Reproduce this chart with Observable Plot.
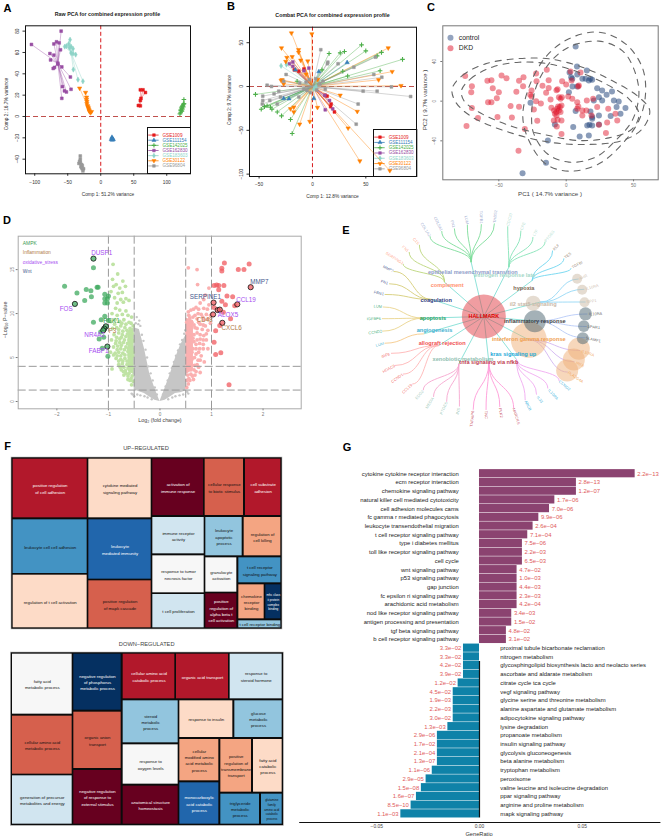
<!DOCTYPE html>
<html><head><meta charset="utf-8">
<script src="https://cdn.jsdelivr.net/npm/d3@7"></script>
<script src="https://cdn.jsdelivr.net/npm/@observablehq/plot@0.6"></script>
<style>
html,body{margin:0;padding:0;background:#fff}
#page{position:relative;width:661px;height:839px;overflow:hidden;font-family:"Liberation Sans",Arial,sans-serif;background:#fff}
#page>svg,#page>div.abs{position:absolute}
.t{position:absolute;white-space:nowrap;transform:translate(-50%,-50%)}
</style></head><body><div id="page"></div>
<script>
// ---------- Panel A values (Comp 1, Comp 2)
const seriesNames=["GSE1009","GSE111154","GSE142025","GSE162830","GSE183603","GSE30122","GSE96804"];
const seriesColors=["#e41a1c","#377eb8","#4daf4a","#984ea3","#8dd3c7","#ff7f00","#999999"];
const seriesSymbols=["square","triangle","plus","square","diamond","triangle","square"];
const seriesTurn=[0,0,0,0,0,180,0];
const seriesEdge=[0.5,0.5,1.1,0.5,0.5,0.5,0.5];
const rawRed=[[60,25],[64,25],[67.7,22.5],[61,17],[60,15],[57,10.3],[60,10]];
const rawBlue=[[17,-19.5],[18,-21],[16,-21.5],[19,-21.5],[17.5,-22],[17,-20.5]];
const rawGreen=[[126,16],[126,12],[125,11],[124,10],[122,8],[121,4],[123,5],[126,12],[122,6],[124,7],[121,6],[123,9],[125,9],[120,2.5]];
const rawPurple=[[-105,67.5],[-60,80],[-71,68],[-67,70],[-63,69],[-77,59],[-71,57.5],[-76,53],[-61,62.5],[-65,50],[-65,49],[-72,45],[-70,46],[-59,46.5],[-46,37],[-58,28],[-55,24],[-52,23],[-45,25.5],[-59,17]];
const rawTeal=[[-46.5,72],[-54.5,65.5],[-52,66],[-48.5,68],[-47.5,64.5],[-45,65.5],[-42,63.5],[-45,59.5],[-42,59],[-38,58],[-41.5,44],[-34.5,34.5],[-27,33]];
const rawOrange=[[-32,26.5],[-23,22.5],[-21.5,18],[-21.5,16],[-21,14],[-21,12],[-20,10],[-19.5,9],[-18.5,8],[-18,6.5],[-17.5,5.5],[-17,4.5],[-15.5,3.5],[-14,4.5]];
const rawGray=[[-31,-37],[-31,-40],[-33,-44],[-31,-43],[-29,-45],[-30,-47],[-28,-46],[-28,-49],[-26,-49],[-27,-51],[-29,-48],[-32,-42]];
const rawCenters=[[61,17],[17.5,-21],[123,8],[-65,50],[-45,60],[-20,10],[-29,-45]];
// ---------- Panel B values
const combatRed=[[-17,19],[-12.8,17.5],[-8,20],[13.7,-11],[17,-23],[20.6,-29],[17.5,-20],[12,-10]];
const combatBlue=[[32.5,27.4],[6,17],[-16,19],[-27,-13.7],[1.3,-13.7],[-22,-14]];
const combatGreen=[[-53.4,-9],[-48,-26],[-45,-23],[-42.5,-22],[-39.4,-23.6],[-38,-26],[-33,-29],[-29,-33.5],[-19,-53.6],[-20.6,-37.6],[-14.4,6],[46,47.5],[50,40.7],[64.7,39],[60.6,35],[84.4,31],[63.4,18],[33,12],[30,40],[26,38.4],[15.6,37.6],[9,19],[28.4,17.5]];
const combatPurple=[[-18.4,28],[-3.4,21],[-18.4,23],[11.6,-10],[12,-26.6],[19,-25.5],[16,-16],[-8,18],[-21.6,26]];
const combatTeal=[[-29.4,23.6],[-24.4,25],[2.5,-1.5],[3.4,0],[1.3,-2.7]];
const combatOrange=[[-19.7,61],[-0.6,60],[-29,44],[-13,42],[-19,34],[-11,30],[-24,33],[-25,28.5],[-13,39],[-4.4,29],[-28.4,7.6],[-29.4,7],[-17.5,-23.6],[-20.6,-25.5],[-12,-43],[-2.5,-40],[4.7,-24],[26,-10],[62,7.6],[74.7,17],[71,44],[83,1],[42,-28.5],[33.4,-47.5],[44.4,-85],[72.5,-96],[-17.5,-29],[-27,3],[-6,14],[5,8]];
const combatGray=[[7.8,42],[14.4,27.8],[14,26],[24,26],[38.8,22],[59,33.5],[57.5,13.7],[65,10.6],[74,-0.4],[92,-11.4],[60.6,-5.3],[47.5,-5.3],[42.8,-20],[41,-43],[-46.6,-11],[-46.6,-16],[-40,-16],[-42.5,1.5],[-38.4,0],[-31.6,-5.3],[-24.7,13.7],[-27,6],[-5,-4.6],[-12.8,-12],[-30,-12],[-36,-8.4],[-33,-20],[-47,-20],[-6,5],[4,-4],[-8,-3],[7,3],[-3,8],[10,6],[-12,4],[3,9],[-2,-7],[12,-3]];
const combatCenter=[0,0];
// ---------- Panel C values (PC1, PC2)
const controlPts=[[7,55],[8,35],[2.5,29],[8.2,27],[3.7,24],[15.3,31],[12,22.5],[18,22.5],[16.8,20.8],[4.7,14.8],[23,13],[26.7,10.8],[24.3,4],[30,6.4],[34,9.7],[35.4,0.7],[39,-0.3],[44,-7],[37.4,-6],[40.3,-12.8],[33,-15],[24.3,-14.5],[19.3,-16],[18,-10.4],[19.3,-17.8],[17.3,-23.9],[19.3,-24.5],[15.6,-24.5],[24.3,-23.5],[5.2,-26],[10,-35.6],[16.8,-34.6],[-13.6,-39.7],[-15,-62],[-32.4,-72.6],[-26.5,-1.7],[-8.4,-23.5],[7,-10],[20.5,0.7],[26.7,0.7],[8.2,14.8],[4.5,22.5],[14.4,22.5],[19.3,21.5],[2,9]];
const dkdPts=[[-75,25.5],[-70,15],[-70.5,9],[-70,-7],[-65.5,-17],[-74,-25],[-58.5,20.5],[-55.5,21],[-54.5,13],[-50,9],[-51.5,3],[-58,-1],[-55.5,-1],[-51,-16],[-48,26],[-44.3,23],[-41.3,-5],[-40.3,-16.5],[-37,9.4],[-35,20.5],[-31.7,24],[-32,15],[-35,-5.7],[-30.7,-28],[-35.4,-50],[-25.7,10.8],[-26.7,6.4],[-25.7,4.7],[-24,-8.4],[-21.5,-19.8],[-22.3,28],[-22,20],[-22.3,0],[-18.8,-2.4],[-17.6,15.5],[-14.4,31.6],[-13,21],[-13,13.4],[-14.9,8.4],[-11.6,1.7],[-7.2,11],[-6.4,12],[-3,20],[0,16.8],[-3.2,4],[-5.4,4],[-4.2,2.4],[-11,-6.7],[-9,-9.4],[-6,-5.4],[-4.7,-6],[-3.5,-4.4],[-8.4,-12.8],[-7.2,-14.5],[-9.2,-19.5],[-6.4,-18.8],[-3.5,-19.5],[-7,-25.5],[-3.5,-33],[1.5,4.7],[4.5,2.4],[8.2,-1],[9,-5.4],[12,-9.4],[15.3,0.7],[20,2.4],[15,-9.4],[18.8,-14.5],[12,-14.5],[8.2,-7.7],[24.3,-23.9],[29.5,-32],[30.4,-21.5],[37.9,-19.5],[23,-6],[3.2,30],[9.4,15.8],[4,20.8],[10.6,29],[36.6,-12.8],[31.2,-7.7],[8.9,14.8],[-6.7,-7.7],[-5.4,-9.4],[-4.2,-11],[-7.4,-11]];
const ellipseDkdOuter=[[-84.7,12.4],[-77,26],[-60,37.6],[-37.6,42.7],[-12.9,42.7],[11.9,34.3],[34,20.8],[54,4],[62,-9.4],[56.4,-28],[41.6,-39.7],[14.4,-43.7],[-12.9,-41.3],[-42.6,-31.3],[-69.8,-16],[-82,-1]];
const ellipseDkdInner=[[-77.7,10.8],[-71,22.5],[-55,34.3],[-35,39.3],[-12.9,37.6],[9.4,29.2],[29.2,17.5],[46.5,2.4],[54,-12.8],[49,-28],[31.7,-37],[9.4,-39.7],[-12.9,-34.6],[-40,-25.5],[-64.9,-11],[-76,0.7]];
const ellipseCtrlOuter=[[-32.2,-16],[-27.7,14],[-15.3,44.4],[2,62.9],[24.3,69.6],[44,57.8],[56.4,34.3],[58.9,7.4],[54,-19.5],[41.6,-43],[24.3,-63.2],[2,-70.6],[-15.3,-63.2],[-27.7,-39.7]];
const ellipseCtrlInner=[[-25.7,-16],[-22.8,12.4],[-12.9,37.6],[2,54.5],[24.3,60.5],[41.6,51],[50.2,32.6],[54,7.4],[49,-19.5],[36.6,-39.7],[21.8,-56.5],[2,-61.5],[-14,-53],[-24,-33]];
// ---------- Panel D values (log2FC, -log10 P)
const nsLeftEdge=[[-0.5,1.3,8.4],[-0.4,1.1,8.2],[-0.3,0.9,6.0],[-0.2,0.5,3.2],[-0.1,0.15,1.5],[0,0,0]];
const nsRightEdge=[[0,0,0],[0.1,0.15,1.5],[0.2,0.5,3.1],[0.3,0.9,4.9],[0.4,1,6.4],[0.5,1.2,7.5]];
const nsPts=[[-0.45,9.6],[-0.42,8.8],[-0.38,8.6],[-0.35,7.6],[-0.32,6.9],[-0.28,5.9],[-0.25,5],[-0.22,4],[-0.18,3.2],[-0.14,2.4],[-0.1,1.6],[-0.06,0.8],[-0.53,0.8],[-0.55,0.9],[-0.5,0.6],[-0.44,0.8],[-0.38,0.7],[-0.3,0.6],[-0.24,0.45],[-0.16,0.25],[0.06,0.8],[0.11,1.7],[0.15,2.4],[0.19,3.2],[0.23,3.8],[0.27,4.5],[0.31,5.2],[0.35,5.8],[0.39,6.5],[0.43,7],[0.47,7.7],[0.49,8.1],[0.53,1.1],[0.55,0.9],[0.45,0.8],[0.38,0.7],[0.3,0.6],[0.24,0.45],[0.16,0.25],[-0.47,8.9],[-0.4,9.2]];
const downFill=[[-0.62,3.5,8],[-0.5,3,8.4]];
const upFill=[[0.5,3,9.5],[0.65,3.6,9.2]];
const lightDown=[[-0.91,15.6],[-0.82,14.5],[-0.72,13.7],[-0.92,13.9],[-0.85,13.3],[-0.9,13.1],[-0.78,12.9],[-0.67,13.1],[-0.95,12.5],[-0.81,12.3],[-0.73,12.4],[-0.88,11.8],[-0.76,11.6],[-0.66,11.7],[-0.83,11.2],[-0.71,11.3],[-0.6,11.5],[-0.86,10.6],[-0.78,10.4],[-0.66,10.3],[-0.93,10],[-0.83,9.8],[-0.73,9.9],[-0.62,9.8],[-0.55,9.6],[-0.95,9.1],[-0.87,9.3],[-0.78,9.1],[-0.7,9.3],[-0.6,9],[-0.52,8.6],[-0.92,8.3],[-0.84,8.4],[-0.76,8.6],[-0.68,8.4],[-0.58,8.3],[-0.89,7.6],[-0.8,7.8],[-0.73,7.6],[-0.63,7.7],[-0.54,7.7],[-0.94,7],[-0.85,6.9],[-0.78,7.1],[-0.69,7],[-0.6,7],[-0.52,6.9],[-0.9,6.2],[-0.82,6.3],[-0.75,6.4],[-0.66,6.2],[-0.56,6.4],[-0.96,5.6],[-0.87,5.5],[-0.8,5.6],[-0.72,5.5],[-0.62,5.7],[-0.52,5.6],[-0.85,4.9],[-0.76,4.8],[-0.68,4.9],[-0.59,5],[-0.8,4.2],[-0.73,4.3],[-0.64,4.2],[-0.55,4.2],[-0.75,3.6],[-0.67,3.5],[-0.58,3.5],[-0.7,3],[-0.62,2.9],[-0.54,2.9],[-0.58,2.4],[-0.52,2.3],[-0.55,1.9],[-0.93,3.7],[-0.74,8.9],[-0.66,8.8],[-0.56,8.9],[-0.88,8.8],[-0.8,8.2],[-0.72,8],[-0.64,8.1],[-0.56,7.9],[-0.84,7.3],[-0.75,7.3],[-0.66,7.4],[-0.58,7.4],[-0.86,6.6],[-0.78,6.7],[-0.71,6.7],[-0.63,6.6],[-0.55,6.8],[-0.83,5.9],[-0.76,6],[-0.69,5.9],[-0.61,6],[-0.54,6],[-0.9,5.3],[-0.83,5.2],[-0.76,5.2],[-0.68,5.3],[-0.6,5.3],[-0.53,5.2],[-0.8,4.6],[-0.72,4.6],[-0.64,4.6],[-0.56,4.6],[-0.77,3.9],[-0.7,3.9],[-0.62,3.8],[-0.54,3.8],[-0.66,3.2],[-0.6,3.2],[-0.71,3.4],[-0.56,2.6],[-0.62,2.5]];
const lightUp=[[0.55,15.2],[0.72,15],[0.73,13.3],[0.95,12.9],[0.88,12.1],[0.85,11.6],[0.78,11.2],[0.7,10.7],[0.95,11],[0.6,10.4],[0.65,10.5],[0.75,10.5],[0.85,10.6],[0.92,10.5],[0.55,10.2],[0.68,9.8],[0.8,9.9],[0.9,9.9],[0.98,9.8],[0.58,9.5],[0.72,9.4],[0.85,9.3],[0.93,9.4],[0.52,9],[0.62,9],[0.78,8.8],[0.88,8.6],[0.98,8.9],[0.55,8.4],[0.68,8.4],[0.82,8.2],[0.93,8.1],[0.58,7.8],[0.72,7.8],[0.85,7.5],[0.53,7.2],[0.64,7.2],[0.78,7.1],[0.9,7],[0.58,6.6],[0.7,6.5],[0.84,6.5],[0.52,6],[0.64,6],[0.77,6],[0.57,5.4],[0.7,5.4],[0.8,5.2],[0.52,4.8],[0.62,4.8],[0.74,4.7],[0.55,4.2],[0.67,4.1],[0.52,3.6],[0.6,3.6],[0.7,3.4],[0.54,3],[0.63,2.9],[0.52,2.4],[0.58,2.4],[0.55,2],[0.52,1.6],[0.75,3.9],[0.86,4.5],[0.93,6],[0.56,9.8],[0.64,9.6],[0.74,10],[0.83,9.6],[0.75,9],[0.66,8.7],[0.84,8.7],[0.72,8.3],[0.6,8.4],[0.78,7.6],[0.66,7.6],[0.9,7.7],[0.6,7.2],[0.72,7],[0.84,7],[0.66,6.8],[0.77,6.6],[0.58,6.1],[0.7,6],[0.84,6],[0.62,5.6],[0.75,5.6],[0.56,5],[0.67,5],[0.78,4.7],[0.6,4.4],[0.72,4.2],[0.57,3.9],[0.66,3.6],[0.6,3.1],[0.68,3],[0.56,2.6],[0.65,2.5],[0.78,3.3]];
const strongDown=[[-1.29,15.2],[-1.85,13.1],[-1.61,12.35],[-1.43,12.75],[-1.34,12.6],[-1.22,13],[-1.2,13],[-1.33,11.9],[-1.46,11.5],[-1.07,12.2],[-1,12],[-1.07,11.7],[-1.02,11.7],[-1.07,11.2],[-1.02,11.2],[-1.07,9.7],[-1.14,9.3],[-1.29,9],[-1,9.2],[-1.15,7.9],[-1.09,7.3],[-1.12,6.05],[-1.01,5.15],[-1.18,7.1]];
const strongUp=[[1.25,15.75],[1.2,15.15],[1.2,14.85],[1.73,15.65],[1.52,15],[1.63,15],[1.05,13.2],[1.1,13.25],[1.14,13.2],[1.24,13.2],[1.14,12.7],[1.3,12],[1.41,11.9],[1.2,11.4],[1.27,11],[1.45,10.9],[1.37,9.4],[1.16,8.65],[1.08,8.05],[1.05,6.75],[1.08,5.35],[1.18,5.55],[1.34,1.9],[1.05,10.7],[1.23,10.15]];
const ringedDown=[[-1.29,16.25],[-1.65,11.1],[-1.05,8.55],[-1.08,8.3],[-1.1,8.1],[-1.02,6.25]];
const ringedUp=[[1.76,13],[1.04,11.25],[1.5,11.05],[1.12,10.4],[1.16,10.45],[1.03,9.9],[1.21,8.95]];
const geneNames=["DUSP1","FOS","PCK1","F3","NR4A2","FABP1","MMP7","SERPINE1","CCL19","ALOX5","CD48","CXCL6"];
const geneX=[-1.13,-1.82,-0.94,-0.92,-1.27,-1.19,1.93,0.88,1.67,1.32,0.87,1.39];
const geneY=[16.85,10.5,9.13,8.03,7.6,5.7,13.6,11.85,11.6,9.85,9.3,8.33];
const genePath=["oxidative_stress","oxidative_stress","AMPK","Inflammation","oxidative_stress","oxidative_stress","Wnt","Wnt","oxidative_stress","oxidative_stress","Inflammation","Inflammation"];
const pathNames=["AMPK","Inflammation","oxidative_stress","Wnt"];
const pathColors=["#3a9a50","#b07a45","#a64df0","#44588c"];
const pathY=[18,16.9,15.85,14.8];
// ---------- Panel E tree (layout units)
const hubNames=["epithelial mesenchymal transition","estrogen response late","hypoxia","il2 stat5 signaling","inflammatory response","interferon gamma response","kras signaling up","tnfa signaling via nfkb","xenobiotic metabolism","allograft rejection","angiogenesis","apoptosis","coagulation","complement"];
const hubLabelX=[547,643,700,728,733,715,668,595,517,455,432,427,437,470];
const hubLabelY=[199,208,247,295,348,400,447,471,460,413,373,338,285,239];
const hubX=[542,655,725,748,733,715,678,595,505,445,400,400,425,462];
const hubY=[170,185,225,290,347,403,462,470,475,420,385,338,282,230];
const hubText=["#8e9bc8","#a5d8c8","#7d6650","#c9b8a8","#444444","#f0a050","#20a8d8","#c04050","#90c0b0","#f05050","#40b0d0","#20a060","#304080","#ff9070"];
const hubBranch=["#7ddc9a","#86e3b8","#6fd6ef","#96d8f5","#b7c9f7","#d3b5f2","#f0aaf0","#ff9ad8","#f6a6cf","#ffb6b6","#f5c98a","#ead58e","#d6cd78","#bcd67c"];
const hubBend=["y","y","y","x","x","x","y","y","y","x","x","x","x","y"];
const leafNames=[["COL1A2","COL5A1","FN1","LUM","TGFB1","THBS2"],["CDC20","CPE","LTF","PTGES"],["KLF","TES","TGFBI"],["AHR","IL10RA","SPP1"],["IL10RA","LPAR1","SLAMF1"],["IL10RA","IRF8","PLA2G4A"],["CCND2","IL10RA","IL33","ABCB"],["TNFAIP6","TNC","PLK2","MARCKS"],["EDG2","MEDIA","PTGES","INS"],["IRF8","HDAC9","CCND1","CCL19"],["LUM"],["LUM","IGFBP6","CCND2"],["MMP7","FN1","FBN1"],["C1S","FN1","SERPING1"]];
const leafX=[[405,443,487,528,572,614],[657,697,735,777],[797,832,860],[878,905,903],[915,910,908],[892,868,855],[822,788,748,712],[545,587,631,677],[387,418,460,503],[285,295,320,350],[268],[262,250,254],[293,282,265],[377,345,312]];
const leafY=[[72,55,55,43,35,33],[42,62,82,92],[125,150,178],[215,245,287],[325,365,402],[443,477,515],[540,567,582,600],[640,628,622,632],[568,592,608,617],[450,490,518,550],[417],[303,340,380],[190,230,263],[107,130,158]];
const bubbleX=[580,728,733,715,860,875,882,885,880,877,865,850,830];
const bubbleY=[333,293,347,403,220,253,290,325,362,398,430,462,495];
const bubbleR=[22,7.5,11,18,5,5,5,6.5,5.8,6,11,11,11];
const bubbleColor=["#e23b43","#cbb9a3","#4a6470","#f0b078","#cbb9a3","#cbb9a3","#cbb9a3","#4a6470","#4a6470","#4a6470","#f0b078","#f0b078","#f0b078"];
// ---------- Panel F treemaps (layout units)
const shades=["#67001f","#b2182b","#d6604d","#f4a582","#fddbc7","#f7f7f7","#d1e5f0","#92c5de","#4393c3","#2166ac","#053061"];
const upLabels=["positive regulation\nof cell adhesion","cytokine mediated\nsignaling pathway","activation of\nimmune response","cellular response\nto biotic stimulus","cell substrate\nadhesion","leukocyte cell cell adhesion","leukocyte\nmediated immunity","regulation of t cell activation","positive regulation\nof mapk cascade","immune receptor\nactivity","leukocyte\napoptotic\nprocess","regulation of\ncell killing","response to tumor\nnecrosis factor","granulocyte\nactivation","t cell receptor\nsignaling pathway","t cell proliferation","positive\nregulation of\nalpha beta t\ncell activation","chemokine\nreceptor\nbinding","mhc class\nii protein\ncomplex\nbinding","t cell receptor binding"];
const upRank=[1,4,0,2,1,8,9,4,2,6,7,3,5,5,8,6,0,3,10,7];
const upBounds=[[38,86,260,262],[265,86,452,262],[457,86,609,255],[614,86,729,255],[735,86,841,255],[38,268,260,429],[265,268,452,446],[38,434,260,592],[265,451,452,592],[457,261,611,370],[616,261,725,376],[731,261,841,376],[457,376,611,487],[616,382,709,485],[715,382,841,457],[457,492,611,592],[616,490,709,592],[715,463,791,565],[796,463,841,565],[715,571,841,592]];
const downLabels=["fatty acid\nmetabolic process","negative regulation\nof phosphorus\nmetabolic process","cellular amino acid\ncatabolic process","organic acid transport","response to\nsteroid hormone","cellular amino acid\nmetabolic process","organic anion\ntransport","generation of precursor\nmetabolites and energy","negative regulation\nof response to\nexternal stimulus","steroid\nmetabolic\nprocess","response to insulin","glucose\nmetabolic\nprocess","response to\noxygen levels","anatomical structure\nhomeostasis","cellular\nmodified amino\nacid metabolic\nprocess","positive\nregulation of\ntransmembrane\ntransport","fatty acid\ncatabolic\nprocess","monocarboxylic\nacid catabolic\nprocess","triglyceride\nmetabolic\nprocess","glutamine\nfamily\namino acid\ncatabolic\nprocess"];
const downRank=[5,10,1,1,6,2,2,6,0,7,4,7,5,0,3,3,4,9,8,8];
const downBounds=[[36,71,215,251],[220,71,362,239],[368,71,523,205],[528,71,684,205],[689,71,845,205],[36,257,215,431],[220,245,362,414],[36,436,215,581],[220,420,362,581],[368,211,533,337],[538,211,697,321],[703,211,845,321],[368,343,533,461],[368,467,533,581],[538,327,655,451],[661,327,753,485],[759,327,845,485],[538,457,655,581],[661,491,777,581],[783,491,845,581]];
// ---------- Panel G values
const upPaths=["cytokine cytokine receptor interaction","ecm receptor interaction","chemokine signaling pathway","natural killer cell mediated cytotoxicity","cell adhesion molecules cams","fc gamma r mediated phagocytosis","leukocyte transendothelial migration","t cell receptor signaling pathway","type i diabetes mellitus","toll like receptor signaling pathway","cell cycle","wnt signaling pathway","p53 signaling pathway","gap junction","fc epsilon ri signaling pathway","arachidonic acid metabolism","nod like receptor signaling pathway","antigen processing and presentation","tgf beta signaling pathway","b cell receptor signaling pathway"];
const upRatio=[0.0758,0.0472,0.0472,0.0367,0.0341,0.0289,0.0261,0.0235,0.0209,0.0209,0.0209,0.0183,0.0183,0.0183,0.0183,0.0183,0.0157,0.0157,0.0131,0.0131];
const upP=["2.2e−13","2.8e−13","1.2e−07","1.7e−06","7.0e−06","9.9e−06","2.6e−04","7.1e−04","7.5e−06","2.2e−03","6.5e−03","4.7e−02","1.0e−03","4.4e−03","2.3e−03","4.2e−04","3.4e−03","1.5e−02","4.8e−02","3.1e−02"];
const downPaths=["proximal tubule bicarbonate reclamation","nitrogen metabolism","glycosphingolipid biosynthesis lacto and neolacto series","ascorbate and aldarate metabolism","citrate cycle tca cycle","vegf signaling pathway","glycine serine and threonine metabolism","alanine aspartate and glutamate metabolism","adipocytokine signaling pathway","lysine degradation","propanoate metabolism","insulin signaling pathway","glycolysis gluconeogenesis","beta alanine metabolism","tryptophan metabolism","peroxisome","valine leucine and isoleucine degradation","ppar signaling pathway","arginine and proline metabolism","mapk signaling pathway"];
const downRatio=[-0.0078,-0.0078,-0.0078,-0.0078,-0.0104,-0.0128,-0.0128,-0.0128,-0.0128,-0.0154,-0.0205,-0.0205,-0.0205,-0.0205,-0.023,-0.026,-0.0283,-0.0307,-0.0333,-0.0383];
const downP=["3.3e−02","3.3e−02","4.2e−02","3.9e−02","1.2e−02","4.5e−02","1.9e−03","2.2e−03","3.0e−02","1.3e−03","2.9e−06","1.7e−02","2.1e−04","1.3e−07","1.1e−06","2.9e−05","1.5e−08","1.6e−07","8.5e−10","1.1e−03"];

// ---------- helpers
const page=document.getElementById("page");
const FONT='"Liberation Sans",Arial,sans-serif';
function mount(el,left,top){el.style.position="absolute";el.style.left=left+"px";el.style.top=top+"px";page.appendChild(el);return el;}
function put(text,x,y,size,opts={}){const d=document.createElement("div");d.className="t";d.textContent=text;d.style.left=x+"px";d.style.top=y+"px";d.style.fontSize=size+"px";d.style.color=opts.color||"#333";if(opts.weight)d.style.fontWeight=opts.weight;if(opts.rotate)d.style.transform=`translate(-50%,-50%) rotate(${opts.rotate}deg)`;page.appendChild(d);}
const toXY=a=>a.map(([x,y])=>({x,y}));
const base=(w,h,m)=>({width:w,height:h,marginLeft:m[0],marginRight:m[1],marginTop:m[2],marginBottom:m[3],style:{fontFamily:FONT,background:"transparent",overflow:"visible"}});

function pcaPlot(groups,center,cfg){
  const marks=[Plot.ruleY([0],{stroke:"#c0504d",strokeWidth:1.2,strokeDasharray:"5 3"}),Plot.ruleX([0],{stroke:"#d7191c",strokeWidth:1,strokeDasharray:"4 2.5"})];
  groups.forEach((pts,i)=>{
    const c=center[i]||center; const rows=toXY(pts);
    marks.push(Plot.link(rows,{x1:()=>c[0],y1:()=>c[1],x2:"x",y2:"y",stroke:seriesColors[i],strokeWidth:0.6,strokeOpacity:cfg.lineOpacity}));
  });
  groups.forEach((pts,i)=>{
    marks.push(Plot.dot(toXY(pts),{x:"x",y:"y",symbol:seriesSymbols[i],fill:seriesColors[i],stroke:seriesColors[i],strokeWidth:seriesEdge[i],r:1.6,rotate:seriesTurn[i]}));
  });
  marks.push(Plot.axisX({ticks:cfg.xTicks,tickSize:2.5,tickPadding:4,fontSize:4.8,label:null,color:"#333",tickFormat:d3.format("d")}));
  marks.push(Plot.axisY({ticks:cfg.yTicks,tickSize:2.5,tickPadding:4.5,fontSize:4.8,label:null,color:"#333",tickRotate:-90,tickFormat:d3.format("d")}));
  marks.push(Plot.frame({stroke:"#111",strokeWidth:1}));
  return Plot.plot({...base(cfg.w,cfg.h,cfg.m),x:{domain:cfg.xd},y:{domain:cfg.yd},marks});
}
function pcaLegend(w,h){
  return Plot.plot({width:w,height:h,margin:0,style:{fontFamily:FONT,background:"#fff",overflow:"visible"},
    x:{domain:[0,1],axis:null},y:{type:"point",domain:seriesNames,range:[5,h-5],round:false,axis:null},
    marks:[
      Plot.ruleY(seriesNames,{x1:()=>0.03,x2:()=>0.27,y:d=>d,stroke:(d,i)=>seriesColors[i],strokeWidth:0.8}),
      Plot.dot(seriesNames,{x:()=>0.15,y:d=>d,symbol:(d,i)=>seriesSymbols[i],fill:(d,i)=>seriesColors[i],stroke:(d,i)=>seriesColors[i],r:1.5,rotate:(d,i)=>seriesTurn[i],strokeWidth:(d,i)=>seriesEdge[i]}),
      Plot.text(seriesNames,{x:()=>0.35,y:d=>d,text:d=>d,textAnchor:"start",fontSize:4.6,fill:(d,i)=>seriesColors[i]}),
      Plot.frame({stroke:"#111",strokeWidth:1})
    ]});
}

// ---------- A
mount(pcaPlot([rawRed,rawBlue,rawGreen,rawPurple,rawTeal,rawOrange,rawGray],rawCenters,{w:210,h:205,m:[25,20,25.3,31.7],xd:[-114,136],yd:[-53.7,85],xTicks:[-100,-50,0,50,100],yTicks:[-40,-20,0,20,40,60,80],lineOpacity:0.65}),0,0);
mount(pcaLegend(43,46),147,127);
put("Raw PCA for combined expression profile",107.5,13.7,5.3,{weight:"bold",color:"#222"});
put("Comp 1: 51.2% variance",108,193.5,4.8);
put("Comp 2: 16.7% variance",5.5,104,4.8,{rotate:-90});

// ---------- B (legend sits under the transparent plot, as in the original)
mount(pcaLegend(43.3,47),372.7,129);
mount(pcaPlot([combatRed,combatBlue,combatGreen,combatPurple,combatTeal,combatOrange,combatGray],combatCenter,{w:210,h:205,m:[34,9,26.7,29],xd:[-59,97.5],yd:[-102.7,67.7],xTicks:[-50,0,50],yTicks:[-100,-50,0,50],lineOpacity:0.7}),215,0);
put("Combat PCA for combined expression profile",332.5,14.5,5.3,{weight:"bold",color:"#222"});
put("Comp 1: 12.8% variance",332.5,196,4.8);
put("Comp 2: 9.7% variance",229,100,4.8,{rotate:-90});

// ---------- C
{
const ell=(a)=>Plot.line(toXY(a),{x:"x",y:"y",curve:"catmull-rom-closed",stroke:"#666",strokeWidth:1.1,strokeDasharray:"6 6"});
const legendNames=["control","DKD"],legendY=[63.9,53.4],groupFill=["#2a4a80","#e0142a"];
const cPlot=Plot.plot({...base(241,205,[22.3,3.3,25.3,25.7]),x:{domain:[-91.6,68.3]},y:{domain:[-79.3,76]},marks:[
  Plot.dot(toXY(controlPts),{x:"x",y:"y",r:3,fill:groupFill[0],fillOpacity:0.55}),
  Plot.dot(toXY(dkdPts),{x:"x",y:"y",r:3,fill:groupFill[1],fillOpacity:0.48}),
  ell(ellipseDkdOuter),ell(ellipseDkdInner),ell(ellipseCtrlOuter),ell(ellipseCtrlInner),
  Plot.dot(legendNames,{x:()=>-85.9,y:(d,i)=>legendY[i],r:3,fill:(d,i)=>groupFill[i],fillOpacity:0.5}),
  Plot.text(legendNames,{x:()=>-79.7,y:(d,i)=>legendY[i],text:d=>d,textAnchor:"start",fontSize:6.8,fill:"#222"}),
  Plot.axisX({ticks:[-50,0,50],tickSize:2,tickPadding:2,fontSize:4.6,label:null,color:"#777",tickFormat:d3.format("d")}),
  Plot.axisY({ticks:[-40,0,40],tickSize:2,tickPadding:4.5,fontSize:4.6,label:null,color:"#777",tickRotate:-90,tickFormat:d3.format("d")}),
  Plot.frame({stroke:"#777",strokeWidth:1})
]});
mount(cPlot,420,0);
put("PC1 ( 14.7% variance )",550,192.7,6.2,{color:"#444"});
put("PC2 ( 9.7% variance )",424,100,6.2,{color:"#444",rotate:-90});
}

// ---------- D
{
const geneRows=geneNames.map((g,i)=>({g,x:geneX[i],y:geneY[i],c:pathColors[pathNames.indexOf(genePath[i])]}));
const area=(a,f)=>Plot.areaY(a.map(([x,lo,hi])=>({x,lo,hi})),{x:"x",y1:"lo",y2:"hi",fill:f});
const dPlot=Plot.plot({...base(305,230,[17.7,4.3,30.7,26.7]),x:{domain:[-2.75,2.74]},y:{domain:[-0.83,18.8]},marks:[
  area(downFill,"#bfe3a4"),area(upFill,"#fbb0b0"),
  area(nsLeftEdge,"#c6c6c6"),area(nsRightEdge,"#c6c6c6"),
  Plot.dot(toXY(nsPts),{x:"x",y:"y",r:1.2,fill:"#c6c6c6"}),
  Plot.dot(toXY(lightDown),{x:"x",y:"y",r:1.9,fill:"#bfe3a4"}),
  Plot.dot(toXY(lightUp),{x:"x",y:"y",r:1.9,fill:"#fbb0b0"}),
  Plot.ruleX([-1,-0.5,0.5,1],{stroke:"#999",strokeWidth:1,strokeDasharray:"8 3"}),
  Plot.ruleY([4,1.3],{stroke:"#999",strokeWidth:1,strokeDasharray:"8 3"}),
  Plot.dot(toXY(strongDown),{x:"x",y:"y",r:2.5,fill:"#3fa95f",fillOpacity:0.75}),
  Plot.dot(toXY(strongUp),{x:"x",y:"y",r:2.5,fill:"#f0595f",fillOpacity:0.75}),
  Plot.dot(toXY(ringedDown),{x:"x",y:"y",r:2.6,fill:"#3fa95f",fillOpacity:0.75,stroke:"#111",strokeWidth:0.8}),
  Plot.dot(toXY(ringedUp),{x:"x",y:"y",r:2.6,fill:"#f0595f",fillOpacity:0.75,stroke:"#111",strokeWidth:0.8}),
  Plot.text(geneRows,{x:"x",y:"y",text:"g",fill:"c",fontSize:6.3}),
  Plot.text(pathNames,{x:()=>-2.66,y:(d,i)=>pathY[i],text:d=>d,fill:(d,i)=>pathColors[i],textAnchor:"start",fontSize:4.9}),
  Plot.axisX({ticks:[-2,-1,0,1,2],tickSize:2,tickPadding:1.5,fontSize:4.6,label:null,color:"#777",tickFormat:d3.format("d")}),
  Plot.axisY({ticks:[0,5,10,15],tickSize:2,tickPadding:2,fontSize:4.6,label:null,color:"#777",tickRotate:-90,tickFormat:d3.format("d")}),
  Plot.frame({stroke:"#aaa",strokeWidth:1})
]});
mount(dPlot,0,205);
put("Log₂ (fold change)",160,419.7,5.3,{color:"#444"});
put("−Log₁₀ P−value",5,320,5.3,{color:"#444",rotate:-90});
}

// ---------- E
{
const rootX=580,rootY=333;
const spokes=hubNames.map((n,i)=>({x:hubX[i],y:hubY[i],c:hubBranch[i]}));
const edges=[],labels=[];
const charW=6.4;
leafNames.forEach((names,i)=>names.forEach((name,j)=>{
  const lx=leafX[i][j],ly=leafY[i][j];
  const dx=lx-rootX,dy=ly-rootY,d=Math.hypot(dx,dy);
  const pull=name.length*charW/2+5;
  const ex=lx-dx/d*pull,ey=ly-dy/d*pull;
  let rot=Math.atan2(dy,dx)*180/Math.PI; if(dx<0) rot+=180;
  edges.push({x1:hubX[i],y1:hubY[i],x2:ex,y2:ey,c:hubBranch[i],bend:hubBend[i]});
  labels.push({name,x:lx,y:ly,rot,c:hubText[i]});
}));
const bubbles=bubbleX.map((x,i)=>({x,y:bubbleY[i],r:bubbleR[i],c:bubbleColor[i]}));
const hubs=hubNames.map((n,i)=>({n,x:hubLabelX[i],y:hubLabelY[i],c:hubText[i]}));
const ePlot=Plot.plot({...base(371,230,[0,0,0,0]),x:{domain:[0,1113],axis:null},y:{domain:[0,690],range:[0,230],axis:null},r:{type:"identity"},marks:[
  Plot.link(spokes,{x1:()=>rootX,y1:()=>rootY,x2:"x",y2:"y",stroke:()=>"#8fe3da",strokeWidth:1}),
  Plot.link(edges.filter(e=>e.bend==="y"),{x1:"x1",y1:"y1",x2:"x2",y2:"y2",stroke:"c",strokeWidth:0.9,curve:"bump-y"}),
  Plot.link(edges.filter(e=>e.bend==="x"),{x1:"x1",y1:"y1",x2:"x2",y2:"y2",stroke:"c",strokeWidth:0.9,curve:"bump-x"}),
  Plot.dot(bubbles,{x:"x",y:"y",r:"r",fill:"c",fillOpacity:0.5}),
  Plot.text(labels,{x:"x",y:"y",text:"name",rotate:"rot",fill:"c",fillOpacity:0.85,fontSize:4}),
  Plot.text(hubs,{x:"x",y:"y",text:"n",fill:"c",fontSize:5.6,fontWeight:"bold"}),
  Plot.text(["HALLMARK"],{x:()=>rootX,y:()=>rootY,text:d=>d,fill:"#e00000",fontSize:5.4,fontWeight:"bold"})
]});
mount(ePlot,290,205);
}

// ---------- F
function treemap(labels,ranks,bounds,outer,h){
  const rows=labels.map((label,i)=>({label,rank:ranks[i],x1:bounds[i][0],y1:bounds[i][1],x2:bounds[i][2],y2:bounds[i][3]}));
  const isLight=r=>r===0||r===1||r===9||r===10;
  const small=l=>l.startsWith("mhc")||l.startsWith("glutamine");
  return Plot.plot({...base(290,h,[0,0,0,0]),x:{domain:[0,870],axis:null},y:{domain:[0,h*3],range:[0,h],axis:null},
    color:{type:"ordinal",domain:d3.range(11),range:shades},
    marks:[
      Plot.rect([outer],{x1:"x1",y1:"y1",x2:"x2",y2:"y2",fill:()=>"#0b0b0b",stroke:"#bbb",strokeWidth:0.6}),
      Plot.rect(rows,{x1:"x1",y1:"y1",x2:"x2",y2:"y2",fill:"rank"}),
      Plot.text(rows.filter(r=>!small(r.label)),{x:d=>(d.x1+d.x2)/2,y:d=>(d.y1+d.y2)/2,text:"label",fontSize:4.3,lineHeight:1.47,fill:d=>isLight(d.rank)?"#fff":"#111"}),
      Plot.text(rows.filter(r=>small(r.label)),{x:d=>(d.x1+d.x2)/2,y:d=>(d.y1+d.y2)/2,text:"label",fontSize:3.1,lineHeight:1.5,fill:d=>isLight(d.rank)?"#fff":"#111"})
    ]});
}
mount(treemap(upLabels,upRank,upBounds,{x1:33,y1:81,x2:846,y2:597},205),0,430);
mount(treemap(downLabels,downRank,downBounds,{x1:31,y1:66,x2:850,y2:586},209),0,630);
put("UP−REGULATED",146,447.7,5.7,{color:"#444"});
put("DOWN−REGULATED",146.7,644.3,5.7,{color:"#444"});

// ---------- G
{
const allPaths=[...upPaths,...downPaths];
const up=upPaths.map((p,i)=>({p,v:upRatio[i],t:upP[i]}));
const down=downPaths.map((p,i)=>({p,v:downRatio[i],t:downP[i]}));
const gPlot=Plot.plot({...base(371,377,[9.3,1.7,6.6,17]),
  x:{domain:[-0.0875,0.0878]},y:{domain:allPaths,range:[6.6,356],padding:0.06,round:false,axis:null},
  marks:[
    Plot.barX(up,{x:"v",y:"p",fill:"#8b4370"}),
    Plot.barX(down,{x:"v",y:"p",fill:"#0f82a8"}),
    Plot.ruleX([0],{y1:()=>downPaths[2],y2:()=>downPaths[19],stroke:"#111",strokeWidth:1.2}),
    Plot.ruleX([0],{y:()=>downPaths[19],stroke:"#111",strokeWidth:1.2}),
    Plot.text(up,{x:"v",y:"p",text:"t",textAnchor:"start",dx:2.2,fill:"#e05a5a",fontSize:5.9}),
    Plot.text(down,{x:"v",y:"p",text:"t",textAnchor:"end",dx:-2.2,fill:"#e05a5a",fontSize:5.9}),
    Plot.text(up,{x:()=>-0.0101,y:"p",text:"p",textAnchor:"end",fill:"#222",fontSize:5.9}),
    Plot.text(down,{x:()=>0.0101,y:"p",text:"p",textAnchor:"start",fill:"#222",fontSize:5.9}),
    Plot.frame({anchor:"bottom",stroke:"#111",strokeWidth:1.2}),
    Plot.axisX({ticks:[-0.05,0,0.05],tickSize:0,tickPadding:2.5,fontSize:4.9,label:null,color:"#444",tickFormat:d3.format(".2f")})
  ]});
mount(gPlot,290,462);
put("GeneRatio",479,834,5.7,{color:"#333"});
}

// ---------- panel letters
[["A",7.5,7.5],["B",231,6],["C",431,7],["D",7,219.5],["E",346,230],["F",7.5,446],["G",347,446.5]].forEach(([l,x,y])=>put(l,x,y,11,{weight:"bold",color:"#000"}));
</script></body></html>
